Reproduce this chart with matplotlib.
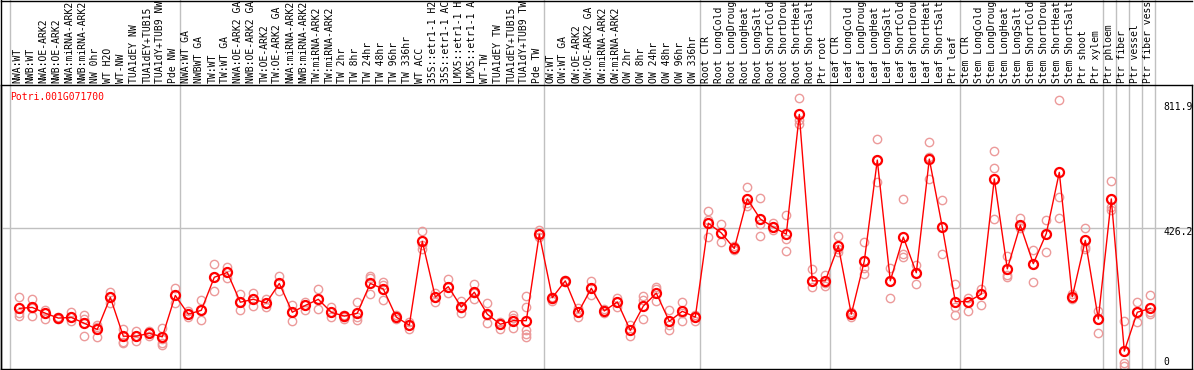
import numpy as np
import matplotlib
matplotlib.use("Agg")
import matplotlib.pyplot as plt

gene = "Potri.001G071700"

samples = [
    "NWA:WT", "NWB:WT", "NWA:OE-ARK2", "NWB:OE-ARK2", "NWA:miRNA-ARK2",
    "NWB:miRNA-ARK2", "NW 0hr", "WT H2O", "WT-NW", "TUA1dEY NW",
    "TUA1dEY+TUB15", "TUA1dY+TUB9 NW", "Pde NW",
    "NWA:WT GA", "NWBWT GA", "TW:WT", "TW:WT GA", "NWA:OE-ARK2 GA",
    "NWB:OE-ARK2 GA", "TW:OE-ARK2", "TW:OE-ARK2 GA", "NWA:miRNA-ARK2",
    "NWB:miRNA-ARK2", "TW:miRNA-ARK2", "TW:miRNA-ARK2", "TW 2hr", "TW 8hr",
    "TW 24hr", "TW 48hr", "TW 96hr", "TW 336hr", "WT ACC", "35S::etr1-1 H2",
    "35S::etr1-1 AC", "LMX5::etr1-1 H", "LMX5::etr1-1 A", "WT-TW",
    "TUA1dEY TW", "TUA1dEY+TUB15", "TUA1dY+TUB9 TW", "Pde TW",
    "OW:WT", "OW:WT GA", "OW:OE-ARK2", "OW:OE-ARK2 GA", "OW:miRNA-ARK2",
    "OW:miRNA-ARK2", "OW 2hr", "OW 8hr", "OW 24hr", "OW 48hr", "OW 96hr",
    "OW 336hr",
    "Root CTR", "Root LongCold", "Root LongDroug", "Root LongHeat",
    "Root LongSalt", "Root ShortCold", "Root ShortDrou", "Root ShortHeat",
    "Root ShortSalt", "Ptr root",
    "Leaf CTR", "Leaf LongCold", "Leaf LongDroug", "Leaf LongHeat",
    "Leaf LongSalt", "Leaf ShortCold", "Leaf ShortDrou", "Leaf ShortHeat",
    "Leaf ShortSalt", "Ptr leaf",
    "Stem CTR", "Stem LongCold", "Stem LongDroug", "Stem LongHeat",
    "Stem LongSalt", "Stem ShortCold", "Stem ShortDrou", "Stem ShortHeat",
    "Stem ShortSalt", "Ptr shoot", "Ptr xylem",
    "Ptr phloem", "Ptr fiber", "Ptr vessel", "Ptr fiber vess",
]

means = [
    178, 181, 163, 148, 150, 132, 113, 212, 92, 92, 101, 90, 218,
    160, 172, 274, 289, 197, 206, 195, 255, 166, 187, 206, 166, 154, 163,
    255, 238, 151, 126, 385, 213, 245, 182, 228, 160, 129, 140, 140, 407,
    211, 263, 166, 240, 170, 198, 110, 185, 225, 138, 169, 151,
    441, 411, 363, 516, 454, 429, 407, 777, 263, 263,
    371, 160, 324, 636, 263, 398, 288, 639, 429, 199,
    199, 222, 578, 300, 435, 316, 409, 598, 214, 388, 145,
    516, 46, 166, 178,
]

replicates = [
    [212, 165, 154], [206, 180, 153], [173, 163, 146], [151, 148, 144],
    [167, 150, 138], [158, 144, 92], [128, 121, 89], [228, 212, 196],
    [113, 75, 72], [108, 93, 77], [108, 101, 93], [116, 82, 72, 65],
    [240, 218, 194],
    [170, 160, 152], [203, 173, 141], [314, 274, 231], [305, 289, 273],
    [221, 197, 172], [225, 206, 186], [206, 195, 182], [277, 255, 233],
    [189, 166, 138], [199, 187, 174], [237, 206, 175], [182, 166, 152],
    [158, 152, 146], [197, 152, 141], [278, 273, 221], [258, 250, 204],
    [158, 151, 146], [135, 126, 114], [417, 374, 361], [226, 213, 199],
    [269, 245, 226], [202, 178, 163], [253, 225, 206], [194, 158, 132],
    [137, 129, 113], [158, 147, 118], [217, 183, 111, 98, 89],
    [420, 407, 399],
    [214, 206, 202], [266, 263, 259], [178, 166, 152], [263, 240, 219],
    [177, 170, 165], [211, 198, 181], [127, 110, 94], [217, 204, 145],
    [243, 237, 201], [173, 127, 110], [198, 163, 139], [158, 151, 138],
    [479, 451, 397], [438, 411, 382], [372, 363, 358], [552, 502, 494],
    [518, 439, 401], [441, 429, 420], [465, 393, 354], [827, 760, 748],
    [300, 263, 244], [281, 255, 248],
    [401, 360, 353], [168, 160, 150], [382, 302, 283], [700, 636, 569],
    [302, 263, 209], [516, 346, 338], [311, 288, 253], [692, 646, 578],
    [513, 429, 346], [253, 183, 158],
    [209, 199, 170], [237, 222, 188], [664, 611, 454], [341, 281, 276],
    [458, 432, 425], [358, 316, 259], [451, 409, 353], [822, 523, 457],
    [221, 214, 206], [425, 368, 361], [170, 145, 101],
    [571, 492, 482], [139, 8, 0], [198, 166, 135], [219, 166, 160],
]

group_edges = [-0.7, 12.36, 40.36, 52.36, 62.36, 72.36,
               83.36, 84.36, 85.36, 86.36, 87.36]
ytick_vals = [811.9, 426.2, 0]

W, H = 1194, 370
px = 13.0          # pixels per sample
x0 = 19.3          # pixel of first sample
vpp = 426.2 / 138  # values per pixel

fig = plt.figure(figsize=(W / 100, H / 100), dpi=100)

# background axes in pixel-ish coordinates (x = sample index, y = pixels from top)
bg = fig.add_axes([0, 0, 1, 1])
bg.set_xlim(-x0 / px, (W - x0) / px)
bg.set_ylim(H, 0)
bg.axis("off")
for e in group_edges:
    bg.plot([e, e], [0, 369], color="#c0c0c0", lw=1)
bg.plot([-18.3 / px, (1192 - x0) / px], [0.5, 0.5], color="black", lw=1)
bg.plot([-18.3 / px, -18.3 / px], [0, 369], color="black", lw=1)
for i, s in enumerate(samples):
    bg.text(i - 0.15, 83, s, rotation=90, ha="center", va="bottom",
            family="DejaVu Sans Mono", fontsize=7, color="black")

ax = fig.add_axes([1 / W, 1 / H, 1191 / W, 284 / H])
ax.patch.set_alpha(0)
ax.set_xlim((1 - x0) / px, (1192 - x0) / px)
ax.set_ylim(-3 * vpp, 281 * vpp)
ax.set_xticks([])
ax.set_yticks([])
for sp in ax.spines.values():
    sp.set_color("black")
    sp.set_linewidth(1)

ax.axhline(426.2, color="#c0c0c0", lw=1, zorder=0)

idx = np.arange(len(samples))
for i, reps in enumerate(replicates):
    ax.plot([i] * len(reps), reps, "o", ms=6, mfc="none", mec="#ec9a9a",
            mew=1, zorder=2)
ax.plot(idx, means, "-", color="red", lw=1, zorder=3)
ax.plot(idx, means, "o", ms=6.5, mfc="none", mec="red", mew=1.6, zorder=4)

ax.text(9 / W * 0 + (10 - 1) / 1191, (369 - 97) / 284, gene,
        transform=ax.transAxes, color="red", family="DejaVu Sans Mono",
        fontsize=7, ha="left", va="center")

for v, ypix in zip(ytick_vals, [107, 232, 362]):
    ax.text((1163 - 1) / 1191, (369 - ypix) / 284, f"{v:g}" if v else "0",
            transform=ax.transAxes, color="black", family="DejaVu Sans Mono",
            fontsize=7, ha="left", va="center")

fig.savefig("out.png", dpi=100)
